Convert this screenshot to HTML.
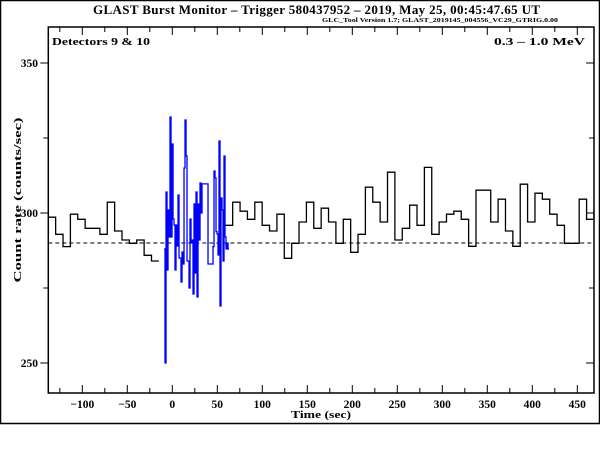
<!DOCTYPE html>
<html><head><meta charset="utf-8"><style>
html,body{margin:0;padding:0;background:#fff;}
svg{display:block;font-family:"Liberation Serif",serif;font-weight:bold;}
</style></head><body>
<svg id="chart" width="600" height="450" viewBox="0 0 600 450" xmlns="http://www.w3.org/2000/svg">
<rect x="0.5" y="0.5" width="599" height="423" fill="none" stroke="#000" stroke-width="1.5"/>
<text x="93" y="14" font-size="13" textLength="447" lengthAdjust="spacing">GLAST Burst Monitor  –  Trigger 580437952  –  2019, May 25, 00:45:47.65 UT</text>
<text x="322" y="22" font-size="6.5" textLength="236" lengthAdjust="spacingAndGlyphs">GLC_Tool Version 1.7; GLAST_2019145_004556_VC29_GTRIG.0.00</text>
<g id="axes"></g>
<g id="marks"></g>
<text x="52" y="45" font-size="11" textLength="98" lengthAdjust="spacingAndGlyphs">Detectors 9 &amp; 10</text>
<text x="494" y="45" font-size="11" textLength="91" lengthAdjust="spacingAndGlyphs">0.3 – 1.0 MeV</text>
<text x="291" y="418" font-size="11" textLength="60" lengthAdjust="spacingAndGlyphs">Time (sec)</text>
<text transform="translate(21,200) rotate(-90)" font-size="11" text-anchor="middle" textLength="165" lengthAdjust="spacingAndGlyphs">Count rate (counts/sec)</text>
</svg>
<script>
const xTickValues = [-100,-50,0,50,100,150,200,250,300,350,400,450];
const yTickValues = [250,300,350];
const backgroundLevel = 290;
const preBinStart = -137.8;
const preBinWidth = 8.192;
const preValues = [298.6,292.9,288.8,299.6,297.9,294.9,294.9,292.9,303.6,294,291,289.9,291,285.9,284];
const postBinStart = 58.9;
const postBinWidth = 8.192;
const postValues = [295.9,303.6,300.6,297.9,303.6,295.9,294,299.6,284.9,289.9,297,303.6,294.9,301.6,297,289.9,297.9,286.9,292.9,308.6,303.6,297,313.6,291,294.9,302.6,295.9,315.2,292.9,297,299.6,300.6,297.9,288.9,307.6,307.6,297,304.6,294,288.9,309.6,297,306.6,304.6,299.6,295.9,289.9,289.9,304.6,297.9,300.6];
const burstBinStart = -9.2;
const burstBinWidth = 1.111;
const burstValues = [288,250,307,281,301,292,332,292,323,298,296,281,296,289,306,285,285,277,287,283,315,331,319,284,284,275,298,290,291,273,303,280,307,272,303,291,310,300,309.7,309.7,309.7,309.7,309.7,309.7,283,283,283,283,283,288.8,314,311.7,293.8,293,286,324,269,305,301,284,319,292,288,290,288];

const NS='http://www.w3.org/2000/svg';
const L=48.3,R=594,T=27,B=393;
const xMax=(R-172.3)/0.9;
const X=t=>172.3+t*0.9;
const Y=v=>213+(300-v)*3;
const axes=document.getElementById('axes'),marks=document.getElementById('marks');
function mk(tag,attrs,parent){const e=document.createElementNS(NS,tag);for(const k in attrs)e.setAttribute(k,attrs[k]);parent.appendChild(e);return e;}

const frame=mk('rect',{x:L,y:T,width:R-L,height:B-T,fill:'none',stroke:'#000','stroke-width':1.5},axes);



for(let t=-125;t<=xMax;t+=25){
  const major=(t%50===0);const len=major?8:5;const x=X(t);
  const tb=mk('line',{x1:x,y1:B,x2:x,y2:B-len,stroke:'#000','stroke-width':1},axes);
  
  
  const tt=mk('line',{x1:x,y1:T,x2:x,y2:T+len,stroke:'#000','stroke-width':1},axes);
  
  
}
xTickValues.forEach(v=>{
  const tx=mk('text',{x:X(v),y:408,'font-size':11.5,'text-anchor':'middle'},axes);
  tx.textContent=(v<0?'\u2212':'')+Math.abs(v);
  
  
});
for(let v=250;v<=360;v+=25){
  const major=(v%50===0);const len=major?8:5;const y=Y(v);
  if(y<T||y>B)continue;
  const tl=mk('line',{x1:L,y1:y,x2:L-len,y2:y,stroke:'#000','stroke-width':1},axes);
  
  
  const tr=mk('line',{x1:R,y1:y,x2:R-len,y2:y,stroke:'#000','stroke-width':1},axes);
  
  
}
yTickValues.forEach(v=>{
  const ty=mk('text',{x:38,y:Y(v)+4,'font-size':11.5,'text-anchor':'end'},axes);
  ty.textContent=v;
  
  
});

const bg=mk('line',{x1:L,y1:Y(backgroundLevel),x2:R,y2:Y(backgroundLevel),stroke:'#000','stroke-width':1,'stroke-dasharray':'4,3'},marks);



function stepPath(start,width,vals){
  let d='';
  vals.forEach((v,i)=>{
    let x0=X(start+i*width),x1=X(start+(i+1)*width);
    x0=Math.max(L,Math.min(R,x0));x1=Math.max(L,Math.min(R,x1));
    const y=Y(v);
    d+=(i===0?'M':'L')+x0.toFixed(2)+','+y.toFixed(2)+'L'+x1.toFixed(2)+','+y.toFixed(2);
  });
  return d;
}
const pre=mk('path',{d:stepPath(preBinStart,preBinWidth,preValues),fill:'none',stroke:'#000','stroke-width':1.3},marks);


const post=mk('path',{d:stepPath(postBinStart,postBinWidth,postValues),fill:'none',stroke:'#000','stroke-width':1.3},marks);


const burst=mk('path',{d:stepPath(burstBinStart,burstBinWidth,burstValues),fill:'none',stroke:'#0000ff','stroke-width':1.3},marks);


</script>
</body></html>
